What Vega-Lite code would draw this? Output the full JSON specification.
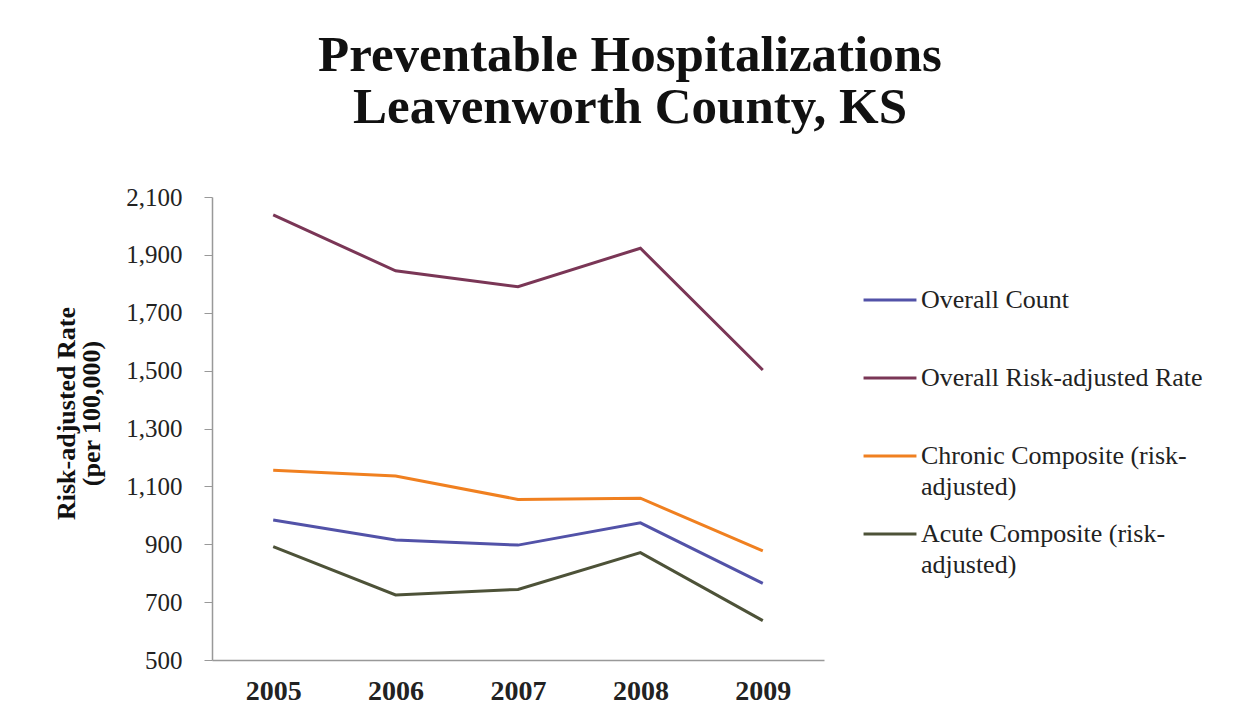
{
  "$schema": "https://vega.github.io/schema/vega-lite/v6.json",
  "width": 612,
  "height": 463,
  "autosize": {"type": "none"},
  "padding": {"left": 212, "top": 197, "right": 421, "bottom": 61},
  "background": "white",
  "title": {
    "text": ["Preventable Hospitalizations", "Leavenworth County, KS"],
    "font": "Liberation Serif",
    "fontSize": 51,
    "fontWeight": "bold",
    "color": "#111",
    "anchor": "middle",
    "dx": 112,
    "offset": 51,
    "lineHeight": 52
  },
  "data": {
    "values": [
      {"year": "2005", "series": "Overall Count", "value": 984},
      {"year": "2006", "series": "Overall Count", "value": 915},
      {"year": "2007", "series": "Overall Count", "value": 897},
      {"year": "2008", "series": "Overall Count", "value": 974},
      {"year": "2009", "series": "Overall Count", "value": 765},
      {"year": "2005", "series": "Overall Risk-adjusted Rate", "value": 2038},
      {"year": "2006", "series": "Overall Risk-adjusted Rate", "value": 1845},
      {"year": "2007", "series": "Overall Risk-adjusted Rate", "value": 1790},
      {"year": "2008", "series": "Overall Risk-adjusted Rate", "value": 1923},
      {"year": "2009", "series": "Overall Risk-adjusted Rate", "value": 1502},
      {"year": "2005", "series": "Chronic Composite (risk-adjusted)", "value": 1156},
      {"year": "2006", "series": "Chronic Composite (risk-adjusted)", "value": 1136},
      {"year": "2007", "series": "Chronic Composite (risk-adjusted)", "value": 1055},
      {"year": "2008", "series": "Chronic Composite (risk-adjusted)", "value": 1059},
      {"year": "2009", "series": "Chronic Composite (risk-adjusted)", "value": 877},
      {"year": "2005", "series": "Acute Composite (risk-adjusted)", "value": 892},
      {"year": "2006", "series": "Acute Composite (risk-adjusted)", "value": 725},
      {"year": "2007", "series": "Acute Composite (risk-adjusted)", "value": 744},
      {"year": "2008", "series": "Acute Composite (risk-adjusted)", "value": 871},
      {"year": "2009", "series": "Acute Composite (risk-adjusted)", "value": 636}
    ]
  },
  "mark": {"type": "line", "strokeWidth": 3},
  "encoding": {
    "x": {
      "field": "year",
      "type": "ordinal",
      "axis": {
        "title": null,
        "labelAngle": 0,
        "labelFont": "Liberation Serif",
        "labelFontSize": 28,
        "labelFontWeight": "bold",
        "labelColor": "#222",
        "labelPadding": 17,
        "ticks": false,
        "domainColor": "#999",
        "domainWidth": 1.5
      }
    },
    "y": {
      "field": "value",
      "type": "quantitative",
      "scale": {"domain": [500, 2100], "nice": false, "zero": false},
      "axis": {
        "title": ["Risk-adjusted Rate", "(per 100,000)"],
        "titleFont": "Liberation Serif",
        "titleFontSize": 26,
        "titleFontWeight": "bold",
        "titleColor": "#111",
        "titlePadding": 21,
        "titleLineHeight": 25,
        "titleY": 216,
        "values": [500, 700, 900, 1100, 1300, 1500, 1700, 1900, 2100],
        "format": ",.0f",
        "labelFont": "Liberation Serif",
        "labelFontSize": 25,
        "labelColor": "#222",
        "labelPadding": 22,
        "tickSize": 8,
        "tickColor": "#999",
        "domainColor": "#999",
        "domainWidth": 1.5,
        "grid": false
      }
    },
    "color": {
      "field": "series",
      "type": "nominal",
      "scale": {
        "domain": ["Overall Count", "Overall Risk-adjusted Rate", "Chronic Composite (risk-adjusted)", "Acute Composite (risk-adjusted)"],
        "range": ["#5252a8", "#7a3656", "#f08020", "#4d5238"]
      },
      "legend": {
        "title": null,
        "orient": "none",
        "legendX": 650,
        "legendY": 90,
        "symbolType": "stroke",
        "symbolSize": 2800,
        "symbolStrokeWidth": 3,
        "labelFont": "Liberation Serif",
        "labelFontSize": 26,
        "labelColor": "#222",
        "labelOffset": 3,
        "labelLimit": 400,
        "clipHeight": 26,
        "rowPadding": 21,
        "labelExpr": "datum.label == 'Chronic Composite (risk-adjusted)' ? ['Chronic Composite (risk-', 'adjusted)'] : datum.label == 'Acute Composite (risk-adjusted)' ? ['Acute Composite (risk-', 'adjusted)'] : [datum.label, ' ']",
        "encode": {
          "labels": {
            "update": {
              "lineHeight": {"value": 31}
            }
          }
        }
      }
    }
  },
  "config": {"view": {"stroke": null}}
}
